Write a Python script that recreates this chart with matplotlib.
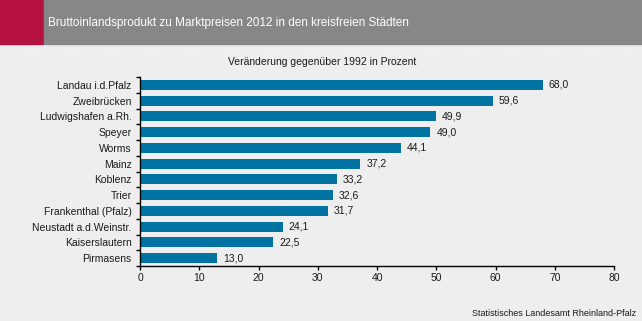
import matplotlib.pyplot as plt
from matplotlib.patches import Rectangle
from matplotlib.lines import Line2D

# Data
cities = ["Landau i.d.Pfalz", "Zweibrücken", "Ludwigshafen a.Rh.", "Speyer", "Worms",
          "Mainz", "Koblenz", "Trier", "Frankenthal (Pfalz)", "Neustadt a.d.Weinstr.",
          "Kaiserslautern", "Pirmasens"]
values = [68.0, 59.6, 49.9, 49.0, 44.1, 37.2, 33.2, 32.6, 31.7, 24.1, 22.5, 13.0]
xticks = [0, 10, 20, 30, 40, 50, 60, 70, 80]

title = "Bruttoinlandsprodukt zu Marktpreisen 2012 in den kreisfreien Städten"
subtitle = "Veränderung gegenüber 1992 in Prozent"
source = "Statistisches Landesamt Rheinland-Pfalz"

plt.rcParams['font.family'] = ['Liberation Sans', 'DejaVu Sans']

bg = "#edeeed"
bar_color = "#0073a3"

fig = plt.figure(figsize=(6.42, 3.21), dpi=100, facecolor=bg)

# Header band
fig.patches.append(Rectangle((0, 1 - 44 / 321), 43 / 642, 44 / 321,
                             transform=fig.transFigure, color="#b5123f", zorder=0))
fig.patches.append(Rectangle((44 / 642, 1 - 44 / 321), 1 - 44 / 642, 44 / 321,
                             transform=fig.transFigure, color="#878787", zorder=0))
fig.text(48 / 642, 1 - 23 / 321, title, color="white", fontsize=8.5,
         va="center", ha="left")

# faint dotted separator
fig.lines.append(Line2D([0.01, 0.99], [1 - 54 / 321] * 2, transform=fig.transFigure,
                        color="white", linestyle=(0, (1, 2)), linewidth=0.6))

fig.text(322 / 642, 1 - 62 / 321, subtitle, fontsize=7.5, ha="center", va="center",
         color="#1a1a1a")

ax = fig.add_axes([140 / 642, 1 - 266 / 321, 474 / 642, 189 / 321])
ax.set_facecolor(bg)

y = list(range(len(cities)))
ax.barh(y, values, height=0.64, color=bar_color, zorder=2)
for yi, v in zip(y, values):
    ax.text(v + 1.0, yi, f"{v:.1f}".replace(".", ","), va="center", ha="left",
            fontsize=7.5, color="#1a1a1a")

ax.set_xlim(0, 80)
ax.set_ylim(len(cities) - 0.5, -0.5)
ax.set_xticks(xticks)
ax.set_xticklabels([str(t) for t in xticks], fontsize=7.5, color="#1a1a1a")
ax.set_yticks(y)
ax.set_yticklabels(cities, fontsize=7.5, color="#1a1a1a")
ax.tick_params(axis="y", length=0, pad=6)
ax.set_yticks([i - 0.5 for i in range(len(cities) + 1)], minor=True)
ax.tick_params(axis="y", which="minor", length=3, width=1, direction="out")
ax.tick_params(axis="x", length=3, width=1, direction="out", pad=2)

for s in ["top", "right"]:
    ax.spines[s].set_visible(False)
for s in ["left", "bottom"]:
    ax.spines[s].set_linewidth(1)
    ax.spines[s].set_color("black")

fig.text(636 / 642, 1 - 313 / 321, source, fontsize=6.5, ha="right", va="center",
         color="#1a1a1a")

fig.savefig("out.png", dpi=100, facecolor=bg)
